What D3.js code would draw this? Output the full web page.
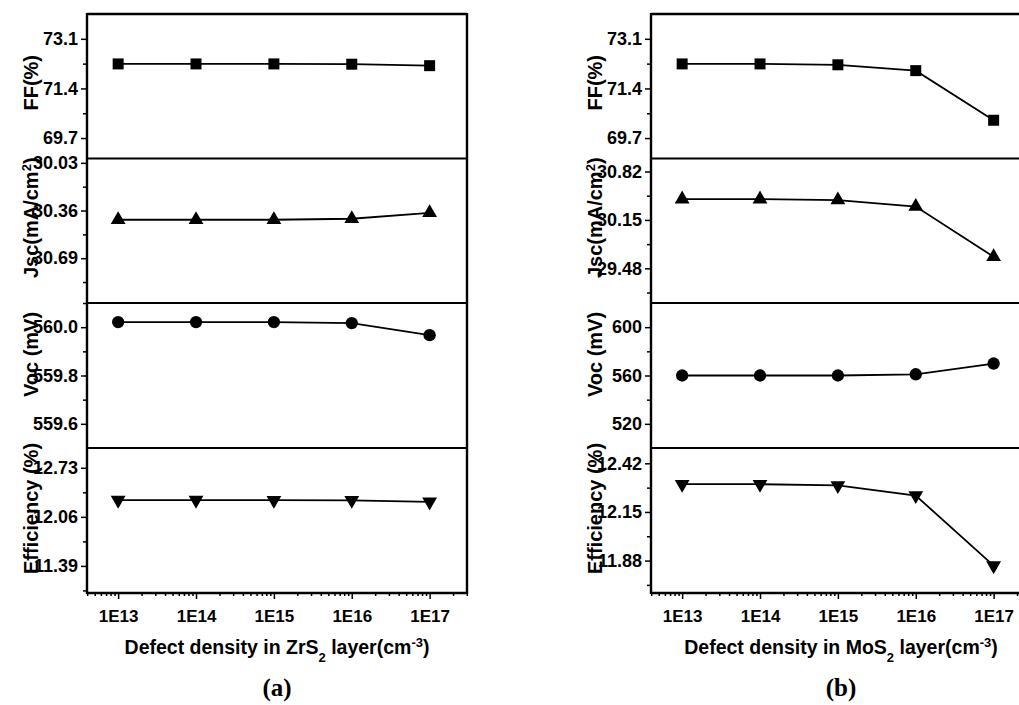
<!DOCTYPE html>
<html>
<head>
<meta charset="utf-8">
<script src="https://cdn.jsdelivr.net/npm/d3@7"></script>
<style>
  body { margin: 0; background: #fff; overflow: hidden; }
  svg { display: block; }
  text { font-family: "Liberation Sans", Arial, sans-serif; font-weight: bold; fill: #000; }
</style>
</head>
<body>
<div id="chart"></div>
<script>
// defect densities (x) and their labels
const densities = [1e13, 1e14, 1e15, 1e16, 1e17];
const densityLabels = ["1E13", "1E14", "1E15", "1E16", "1E17"];

// (a) ZrS2 layer
const ffZrS2 = [72.24, 72.24, 72.24, 72.23, 72.18];
const jscZrS2 = [30.424, 30.424, 30.424, 30.417, 30.376];
const vocZrS2 = [560.021, 560.021, 560.021, 560.017, 559.967];
const effZrS2 = [12.288, 12.288, 12.287, 12.286, 12.265];

// (b) MoS2 layer
const ffMoS2 = [72.24, 72.24, 72.21, 72.01, 70.31];
const jscMoS2 = [30.437, 30.437, 30.425, 30.335, 29.64];
const vocMoS2 = [560, 560, 560, 561, 569.9];
const effMoS2 = [12.304, 12.304, 12.297, 12.241, 11.852];

// tick labels on the y axes
const ffTicks = [69.7, 71.4, 73.1];
const jscTicksA = [30.03, 30.36, 30.69];
const vocTicksA = [559.6, 559.8, 560.0];
const effTicksA = [11.39, 12.06, 12.73];
const jscTicksB = [29.48, 30.15, 30.82];
const vocTicksB = [520, 560, 600];
const effTicksB = [11.88, 12.15, 12.42];

const width = 1019, height = 705;
const panelW = 380;
const rowEdges = [14, 158.5, 303, 448, 593];

const svg = d3.select("#chart").append("svg")
  .attr("width", width)
  .attr("height", height);

const x = d3.scaleLog().domain([Math.pow(10, 12.6), Math.pow(10, 17.48)]).range([0, panelW]);

const rowLabels = [
  { parts: [["FF(%)", 0]], shift: -3.5 },
  { parts: [["Jsc(mA/cm", 0], ["2", 1], [")", 0]], shift: -13 },
  { parts: [["Voc (mV)", 0]], shift: -21 },
  { parts: [["Efficiency (%)", 0]], shift: -12 }
];
const symbols = [
  { type: d3.symbolSquare, size: 121, rot: 0 },
  { type: d3.symbolTriangle, size: 95, rot: 0 },
  { type: d3.symbolCircle, size: 120, rot: 0 },
  { type: d3.symbolTriangle, size: 95, rot: 180 }
];

function drawFigure(left, rows, material, tag) {
  const g = svg.append("g").attr("transform", "translate(" + left + ",0)");

  rows.forEach(function (row, i) {
    const top = rowEdges[i], bottom = rowEdges[i + 1];
    const y = d3.scaleLinear().domain(row.domain).range([bottom, top]);

    // minor ticks half way between the major ones
    const step = row.ticks[1] - row.ticks[0];
    const lo = Math.min(row.domain[0], row.domain[1]);
    const hi = Math.max(row.domain[0], row.domain[1]);
    const minors = [];
    for (let k = -3; k <= 3; k++) {
      const v = row.ticks[0] + (k + 0.5) * step;
      if (v > lo && v < hi) minors.push(v);
    }

    g.append("g")
      .call(d3.axisLeft(y).tickValues(minors).tickSize(4).tickFormat(""))
      .call(a => a.select(".domain").remove())
      .selectAll("line").attr("stroke-width", 1.5);

    g.append("g")
      .call(d3.axisLeft(y).tickValues(row.ticks).tickSize(6).tickPadding(3).tickFormat(d3.format(row.fmt)))
      .call(a => a.select(".domain").remove())
      .call(a => a.selectAll("line").attr("stroke-width", 1.5))
      .selectAll("text")
      .style("font-size", "18px");

    // divider / frame
    g.append("line")
      .attr("x1", 0).attr("x2", panelW)
      .attr("y1", top).attr("y2", top)
      .attr("stroke", "#000")
      .attr("stroke-width", i === 0 ? 2.4 : 1.8);

    // line + markers
    const pts = densities.map((d, j) => [x(d), y(row.values[j])]);
    g.append("path")
      .attr("d", d3.line()(pts))
      .attr("fill", "none")
      .attr("stroke", "#000")
      .attr("stroke-width", 1.8);

    const sym = symbols[i];
    g.selectAll(".m" + i)
      .data(pts)
      .enter()
      .append("path")
      .attr("d", d3.symbol().type(sym.type).size(sym.size))
      .attr("transform", d => "translate(" + d[0] + "," + d[1] + ") rotate(" + sym.rot + ")")
      .attr("fill", "#000");

    // row label
    const lab = svg.append("text")
      .attr("transform", "translate(" + (left - 49) + "," + ((top + bottom) / 2 + rowLabels[i].shift) + ") rotate(-90)")
      .attr("text-anchor", "middle")
      .style("font-size", "20px");
    rowLabels[i].parts.forEach(function (p) {
      const t = lab.append("tspan").text(p[0]);
      if (p[1] === 1) t.attr("baseline-shift", "super").style("font-size", "13px");
    });
  });

  // bottom x axis with log minor ticks
  const minorX = [];
  for (let e = 12; e <= 17; e++) {
    for (let m = 2; m <= 9; m++) {
      const v = m * Math.pow(10, e);
      if (v > x.domain()[0] && v < x.domain()[1]) minorX.push(v);
    }
  }
  g.append("g")
    .attr("transform", "translate(0," + rowEdges[4] + ")")
    .call(d3.axisBottom(x).tickValues(minorX).tickSize(3).tickFormat(""))
    .call(a => a.select(".domain").remove())
    .selectAll("line").attr("stroke-width", 1.5);

  g.append("g")
    .attr("transform", "translate(0," + rowEdges[4] + ")")
    .call(d3.axisBottom(x).tickValues(densities).tickSize(6).tickPadding(11)
      .tickFormat((d, i) => densityLabels[i]))
    .call(a => a.select(".domain").remove())
    .call(a => a.selectAll("line").attr("stroke-width", 1.5))
    .selectAll("text")
    .style("font-size", "17px");

  // outer frame: left, right, bottom
  g.append("line").attr("x1", 0).attr("x2", 0).attr("y1", rowEdges[0] - 1).attr("y2", rowEdges[4] + 1)
    .attr("stroke", "#000").attr("stroke-width", 2.4);
  g.append("line").attr("x1", panelW).attr("x2", panelW).attr("y1", rowEdges[0] - 1).attr("y2", rowEdges[4] + 1)
    .attr("stroke", "#000").attr("stroke-width", 2.4);
  g.append("line").attr("x1", 0).attr("x2", panelW).attr("y1", rowEdges[4]).attr("y2", rowEdges[4])
    .attr("stroke", "#000").attr("stroke-width", 2.4);

  // x axis title
  const title = g.append("text")
    .attr("x", panelW / 2)
    .attr("y", 654)
    .attr("text-anchor", "middle")
    .style("font-size", "19.5px");
  title.append("tspan").text("Defect density in " + material);
  title.append("tspan").text("2").attr("baseline-shift", "sub").style("font-size", "13px");
  title.append("tspan").text(" layer(cm");
  title.append("tspan").text("-3").attr("baseline-shift", "super").style("font-size", "13px");
  title.append("tspan").text(")");

  g.append("text")
    .attr("x", panelW / 2)
    .attr("y", 696)
    .attr("text-anchor", "middle")
    .style("font-family", "'Liberation Serif', 'Times New Roman', serif")
    .style("font-size", "25px")
    .text(tag);
}

drawFigure(87, [
  { values: ffZrS2, ticks: ffTicks, domain: [69.0, 73.95], fmt: ".1f" },
  { values: jscZrS2, ticks: jscTicksA, domain: [31.0, 30.0], fmt: ".2f" },
  { values: vocZrS2, ticks: vocTicksA, domain: [559.5, 560.1], fmt: ".1f" },
  { values: effZrS2, ticks: effTicksA, domain: [11.02, 13.0], fmt: ".2f" }
], "ZrS", "(a)");

drawFigure(651, [
  { values: ffMoS2, ticks: ffTicks, domain: [69.0, 73.95], fmt: ".1f" },
  { values: jscMoS2, ticks: jscTicksB, domain: [29.0, 31.0], fmt: ".2f" },
  { values: vocMoS2, ticks: vocTicksB, domain: [500, 620], fmt: "d" },
  { values: effMoS2, ticks: effTicksB, domain: [11.70, 12.505], fmt: ".2f" }
], "MoS", "(b)");
</script>
</body>
</html>
